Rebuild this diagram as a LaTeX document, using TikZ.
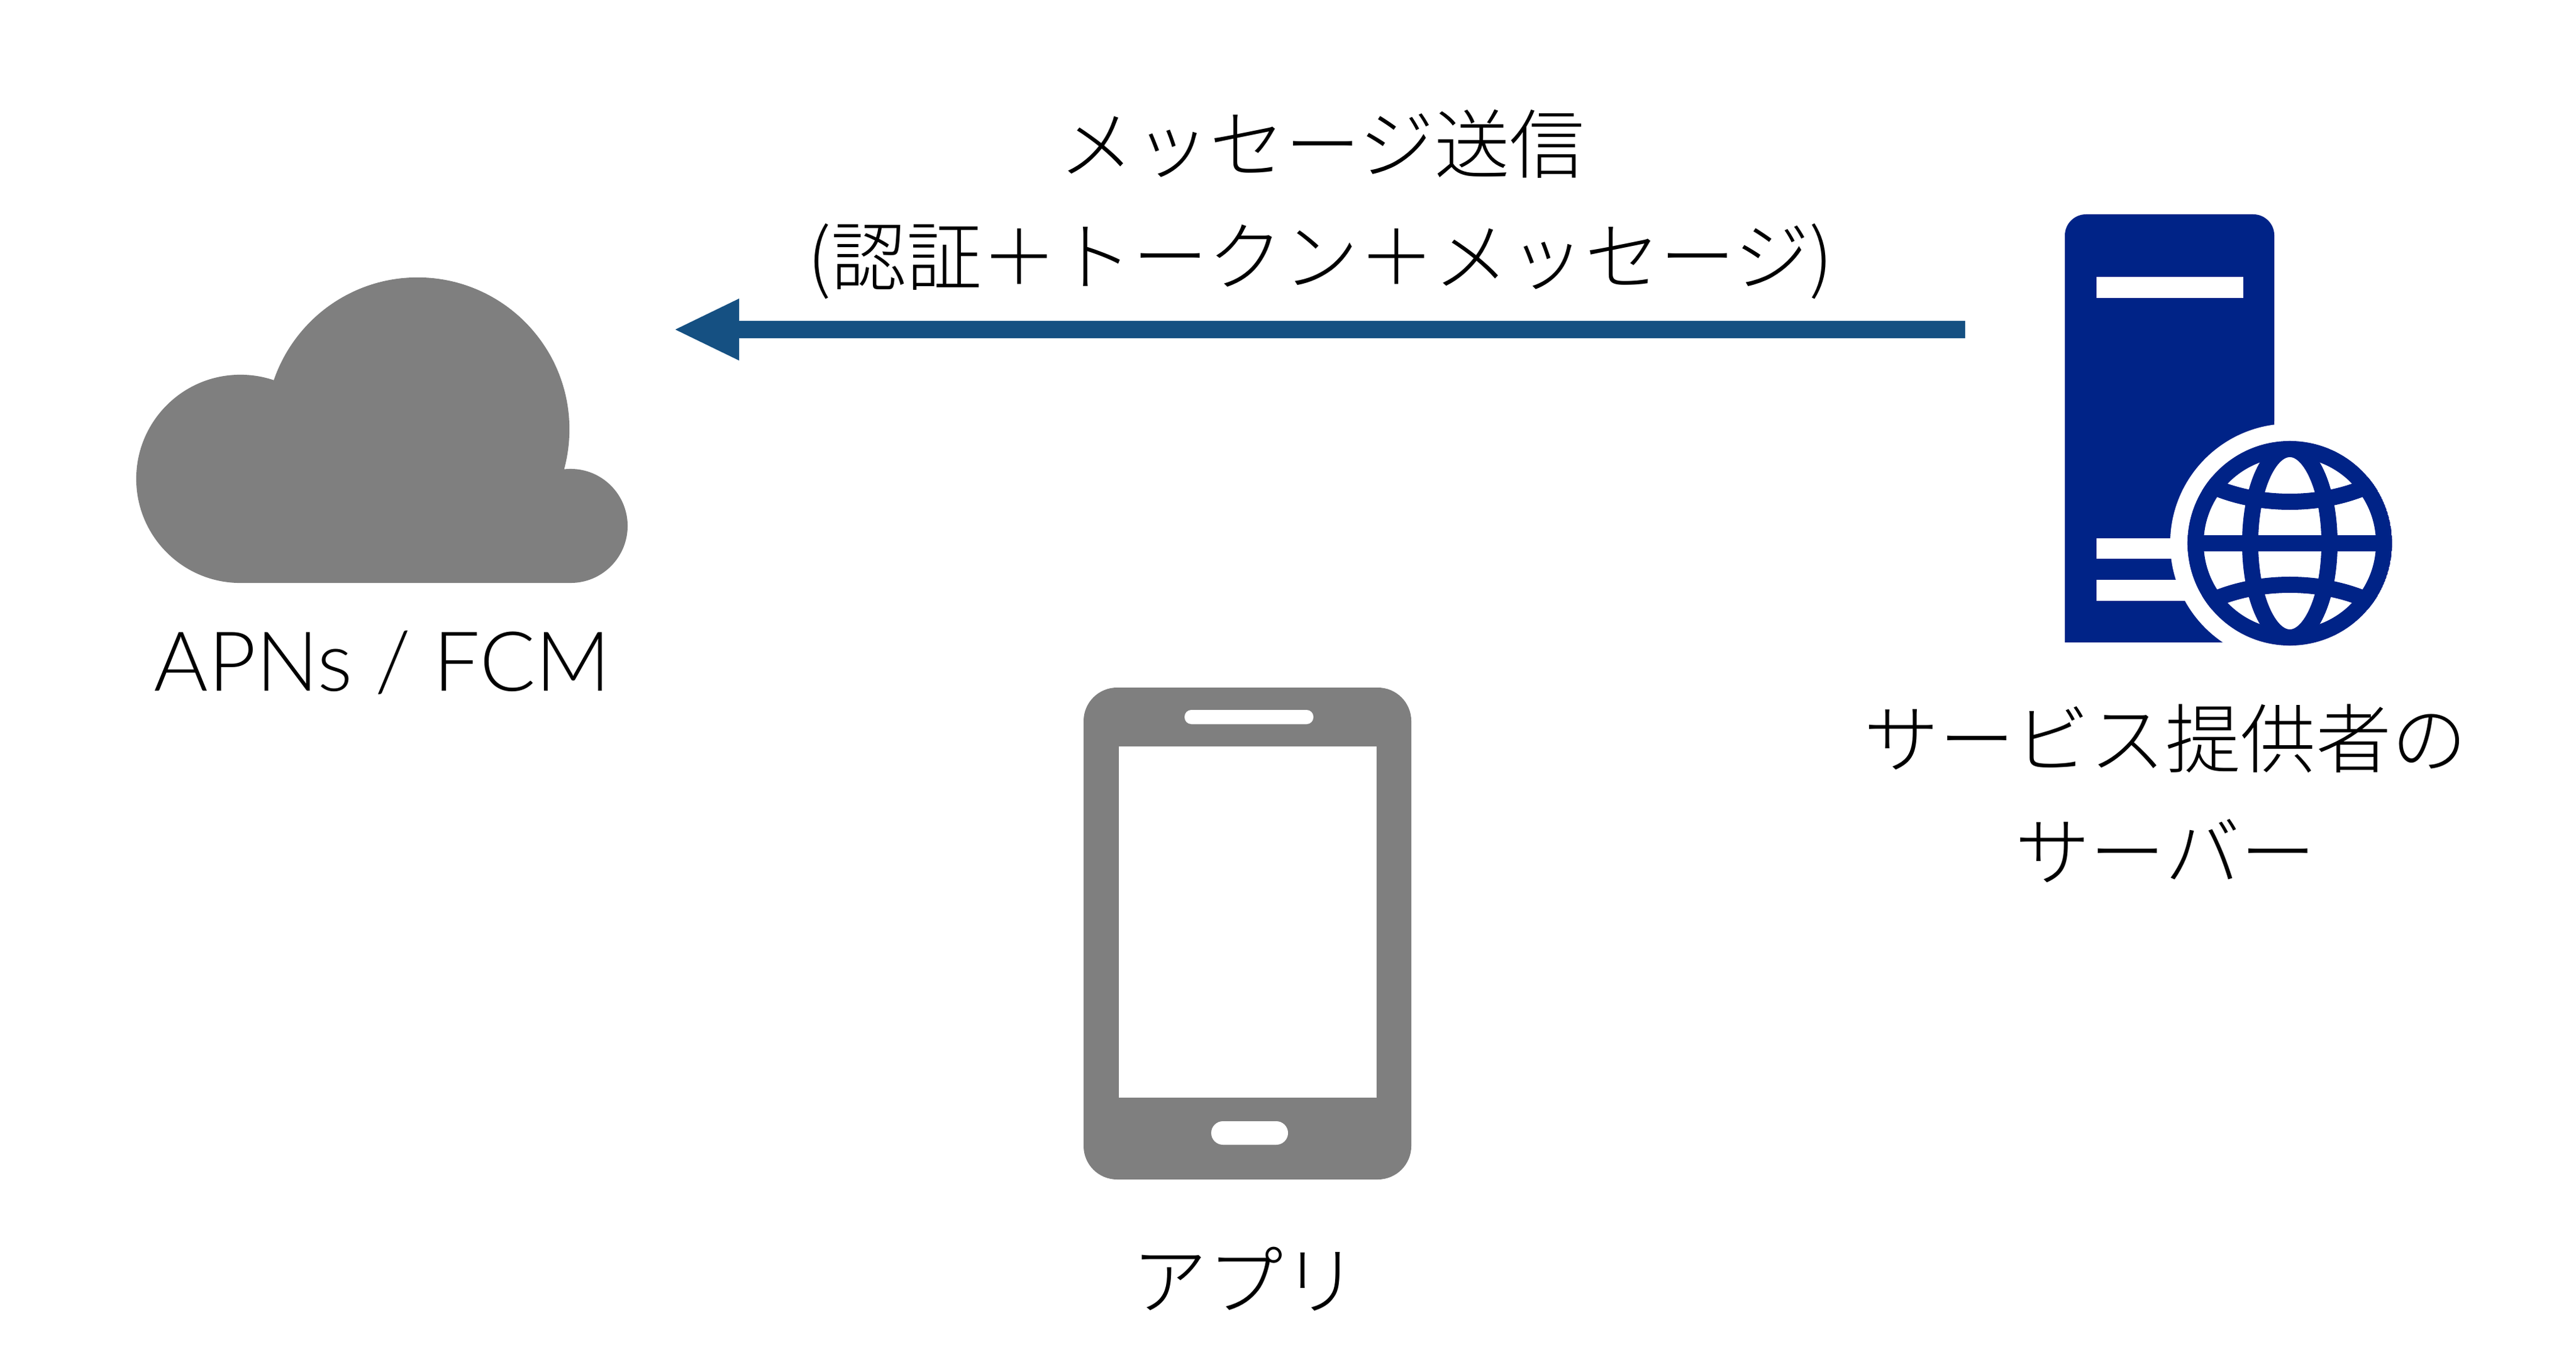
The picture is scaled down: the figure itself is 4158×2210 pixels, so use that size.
\documentclass[tikz,border=0pt]{standalone}
\usepackage{fontspec}
\setmainfont{Lato Light}
\newfontfamily\cjk{Noto Sans CJK JP Light}
\definecolor{graycol}{HTML}{7F7F7F}
\definecolor{navycol}{HTML}{002387}
\definecolor{arrowcol}{HTML}{155082}
\tikzset{x=0.01cm,y=-0.01cm,
  lbl/.style={inner sep=0pt,font=\fontsize{34.6}{42}\selectfont\cjk,text=black},
  latinlbl/.style={inner sep=0pt,font=\fontsize{38}{46}\selectfont,text=black},
  globeline/.style={draw=navycol,line width=0.26cm}}
\begin{document}
\begin{tikzpicture}
\useasboundingbox (0,0) rectangle (4158,2210);
% cloud
\fill[graycol] (388,773) circle[radius=1.68cm] (674,693) circle[radius=2.45cm] (921,849) circle[radius=0.92cm]
  (388,800) rectangle (921,941);
% phone
\fill[graycol,rounded corners=0.54cm] (1749,1110) rectangle (2278,1904);
\fill[white] (1806,1205) rectangle (2222,1772);
\fill[white,rounded corners=0.11cm] (1912,1146) rectangle (2120,1169);
\fill[white,rounded corners=0.19cm] (1955,1810) rectangle (2079,1848);
% server
\fill[navycol,rounded corners=0.34cm] (3333,1037) -- (3333,346) -- (3671,346) -- (3671,1037) [sharp corners] -- cycle;
\fill[white] (3384,447) rectangle (3621,481);
\fill[white] (3384,869) rectangle (3640,902);
\fill[white] (3384,936) rectangle (3640,970);
\fill[white] (3696,877) circle[radius=1.93cm];
\fill[white] (3671,680) rectangle (3900,1050);
\fill[white] (3500,1037.5) rectangle (3900,1060);
\fill[navycol] (3333,1010) rectangle (3400,1037);
\begin{scope}
\clip (3696,877) circle[radius=1.65cm];
\draw[globeline] (3696,877) circle[radius=1.52cm];
\draw[globeline] (3696,877) ellipse[x radius=0.64cm,y radius=1.52cm];
\draw[globeline] (3530,877) -- (3862,877);
\draw[globeline] (3560,780) .. controls (3640,820) and (3752,820) .. (3832,780);
\draw[globeline] (3560,974) .. controls (3640,934) and (3752,934) .. (3832,974);
\end{scope}
% arrow
\coordinate (arrowstart) at (3172,532);
\coordinate (arrowbase) at (1191,532);
\coordinate (arrowtip) at (1090,532);
\draw[arrowcol,line width=0.27cm] (arrowstart) -- (arrowbase);
\fill[arrowcol] (arrowtip) -- (1193,482) -- (1193,582) -- cycle;
% labels
\node[lbl] (msg1) at (2134,232) {メッセージ送信};
\node[lbl] (msg2) at (2131,422) {(認証＋トークン＋メッセージ)};
\node[latinlbl] (cloudlabel) at (617,1070) {APNs / FCM};
\node[lbl] (srv1) at (3495,1192) {サービス提供者の};
\node[lbl] (srv2) at (3495,1374) {サーバー};
\node[lbl] (applabel) at (2010,2065) {アプリ};
\end{tikzpicture}
\end{document}
